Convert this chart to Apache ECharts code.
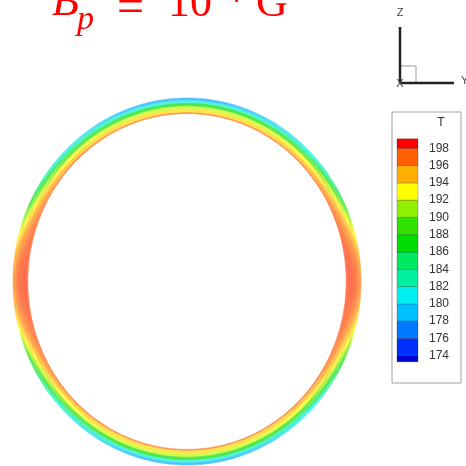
<!DOCTYPE html>
<html><head><meta charset="utf-8">
<script src="https://cdn.jsdelivr.net/npm/echarts@6/dist/echarts.min.js"></script>
<style>html,body{margin:0;padding:0;background:#fff}#c{width:466px;height:466px}</style>
</head><body><div id="c"></div>
<script>
// Angular positions (degrees from the horizontal: 0 = side of ring, 90 = top), one quadrant, mirrored to the others
const angles = [0, 5, 10, 15, 20, 25, 30, 35, 40, 45, 50, 55, 60, 65, 70, 75, 80, 85, 90];
// Radial layer boundaries (fraction of ring radius), inner -> outer
const layerEdges = [0.915, 0.9235, 0.9405, 0.9575, 0.9745, 0.989, 1.0];
// Temperature T in each radial layer, one value per angle
const layerInner = [197.8,197.8,197.7,197.6,197.5,197.4,197.3,197.2,197.2,197.1,197.1,197.0,197.0,197.0,197.0,197.0,197.0,197.0,197.0];
const layer2     = [198.0,198.0,197.8,197.5,197.1,196.6,196.1,195.6,195.2,194.9,194.6,194.4,194.2,194.1,194.0,194.0,193.9,193.9,193.9];
const layer3     = [198.0,197.9,197.5,196.9,196.2,195.4,194.6,193.9,193.3,192.9,192.6,192.4,192.2,192.1,192.0,192.0,191.9,191.9,191.9];
const layer4     = [197.8,197.6,197.0,196.0,194.8,193.4,192.0,190.8,189.8,189.0,188.4,188.0,187.6,187.3,187.1,187.0,186.9,186.9,186.9];
const layer5     = [197.2,196.9,196.2,194.8,193.0,191.0,189.0,187.2,185.8,184.8,184.0,183.3,182.8,182.4,182.1,181.9,181.8,181.7,181.7];
const layerOuter = [196.5,196.0,195.0,193.2,190.8,188.0,185.5,183.0,181.8,181.0,180.5,180.0,179.5,179.0,178.7,178.5,178.4,178.3,178.3];
const layers = [layerInner, layer2, layer3, layer4, layer5, layerOuter];

// Colour legend
const levelMin = 173, levelMax = 199;
const bandEdges = [173.3,174,176,178,180,182,184,186,188,190,192,194,196,198,199.1];
const bandColors = ['#0000d8','#0030ff','#0078ff','#00c0ff','#00f0f0','#00f0a0','#00e860','#00dd00','#30e000','#90f000','#ffff00','#ffb000','#ff6000','#ff0000'];

const ringData = [];
layers.forEach((arr, li) => arr.forEach((v, ai) => ringData.push([ai, li, v])));
const bandData = bandColors.map((c, i) => [bandEdges[i], bandEdges[i + 1], i]);

const chart = echarts.init(document.getElementById('c'), null, {renderer: 'canvas'});

function tColor(v) {
  const t = Math.max(0, Math.min(1, (v - levelMin) / (levelMax - levelMin)));
  return echarts.color.lift(echarts.color.lerp(t, bandColors), 0.3);
}

function renderRing(params, api) {
  const ai = api.value(0), li = api.value(1);
  if (ai >= angles.length - 1) return null;
  const a0 = angles[ai], a1 = angles[ai + 1];
  const r0 = layerEdges[li], r1 = layerEdges[li + 1], rm = (r0 + r1) / 2;
  const c0 = tColor(api.value(2)), c1 = tColor(layers[li][ai + 1]);
  const children = [];
  const N = 4;
  const rad = d => d * Math.PI / 180;
  [[1, 1], [-1, 1], [1, -1], [-1, -1]].forEach(([sx, sy]) => {
    const pts = [];
    for (let k = 0; k <= N; k++) {
      const t = rad(a0 + (a1 - a0) * k / N);
      pts.push(api.coord([sx * r1 * Math.cos(t), sy * r1 * Math.sin(t)]));
    }
    for (let k = N; k >= 0; k--) {
      const t = rad(a0 + (a1 - a0) * k / N);
      pts.push(api.coord([sx * r0 * Math.cos(t), sy * r0 * Math.sin(t)]));
    }
    const pA = api.coord([sx * rm * Math.cos(rad(a0)), sy * rm * Math.sin(rad(a0))]);
    const pB = api.coord([sx * rm * Math.cos(rad(a1)), sy * rm * Math.sin(rad(a1))]);
    const grad = new echarts.graphic.LinearGradient(pA[0], pA[1], pB[0], pB[1],
      [{offset: 0, color: c0}, {offset: 1, color: c1}], true);
    children.push({type: 'polygon', shape: {points: pts}, style: {fill: grad, stroke: grad, lineWidth: 0.6}});
  });
  return {type: 'group', children};
}

function renderBand(params, api) {
  const lo = api.value(0), hi = api.value(1), idx = api.value(2);
  const p0 = api.coord([0, hi]);
  const p1 = api.coord([1, lo]);
  return {
    type: 'rect',
    shape: {x: p0[0], y: p0[1], width: p1[0] - p0[0], height: p1[1] - p0[1]},
    style: {fill: bandColors[idx], stroke: 'rgba(0,0,0,0.28)', lineWidth: 0.8}
  };
}

const red = '#ff0000';
const serif = '"Liberation Serif", "DejaVu Serif", serif';
const sans = '"Liberation Sans", Arial, sans-serif';

chart.setOption({
  animation: false,
  backgroundColor: '#ffffff',
  grid: [
    {left: 13, top: 98, width: 348, height: 367},
    {left: 397, top: 131, width: 21, height: 242}
  ],
  xAxis: [
    {gridIndex: 0, type: 'value', min: -1, max: 1, show: false},
    {gridIndex: 1, type: 'value', min: 0, max: 1, show: false}
  ],
  yAxis: [
    {gridIndex: 0, type: 'value', min: -1, max: 1, show: false},
    {gridIndex: 1, type: 'value', min: 172, max: 200, interval: 2, position: 'right',
     axisLine: {show: false}, axisTick: {show: false}, splitLine: {show: false},
     axisLabel: {margin: 11, fontSize: 12, color: '#333', fontFamily: sans,
       formatter: v => (v >= 174 && v <= 198) ? String(v) : ''}}
  ],
  series: [
    {type: 'custom', xAxisIndex: 0, yAxisIndex: 0, data: ringData, renderItem: renderRing, clip: false},
    {type: 'custom', xAxisIndex: 1, yAxisIndex: 1, data: bandData, renderItem: renderBand}
  ],
  graphic: [
    {type: 'rect', z: 0, shape: {x: 392, y: 112, width: 69, height: 271}, style: {fill: '#fff', stroke: '#a0a0a0', lineWidth: 1}},
    {type: 'text', z: 1, x: 441, y: 123, style: {text: 'T', fontSize: 12, fill: '#333', fontFamily: sans, align: 'center', verticalAlign: 'middle'}},
    // axis triad
    {type: 'rect', shape: {x: 400, y: 66, width: 16, height: 17}, style: {fill: 'none', stroke: '#999', lineWidth: 1}},
    {type: 'line', shape: {x1: 400, y1: 27, x2: 400, y2: 83}, style: {stroke: '#222', lineWidth: 2.5}},
    {type: 'line', shape: {x1: 400, y1: 83, x2: 454, y2: 83}, style: {stroke: '#222', lineWidth: 2.5}},
    {type: 'text', x: 400, y: 13, style: {text: 'Z', fontSize: 11, fill: '#444', fontFamily: sans, align: 'center', verticalAlign: 'middle'}},
    {type: 'text', x: 400, y: 84, style: {text: 'X', fontSize: 11, fill: '#444', fontFamily: sans, align: 'center', verticalAlign: 'middle'}},
    {type: 'text', x: 461, y: 81, style: {text: 'Y', fontSize: 11, fill: '#444', fontFamily: sans, align: 'left', verticalAlign: 'middle'}},
    // title  B_p = 10^4 G
    {type: 'text', x: 52, y: 3, style: {text: 'B', fontSize: 44, fontStyle: 'italic', fill: red, fontFamily: serif, align: 'left', verticalAlign: 'middle'}},
    {type: 'text', x: 77, y: 20, style: {text: 'p', fontSize: 34, fontStyle: 'italic', fill: red, fontFamily: serif, align: 'left', verticalAlign: 'middle'}},
    {type: 'text', x: 117, y: 9, style: {text: '=', fontSize: 48, fill: red, fontFamily: serif, align: 'left', verticalAlign: 'middle'}},
    {type: 'text', x: 168, y: 4, style: {text: '10', fontSize: 44, fill: red, fontFamily: serif, align: 'left', verticalAlign: 'middle'}},
    {type: 'text', x: 226, y: -6, style: {text: '4', fontSize: 30, fill: red, fontFamily: serif, align: 'left', verticalAlign: 'middle'}},
    {type: 'text', x: 256, y: 4, style: {text: 'G', fontSize: 44, fill: red, fontFamily: serif, align: 'left', verticalAlign: 'middle'}}
  ]
});
</script>
</body></html>
